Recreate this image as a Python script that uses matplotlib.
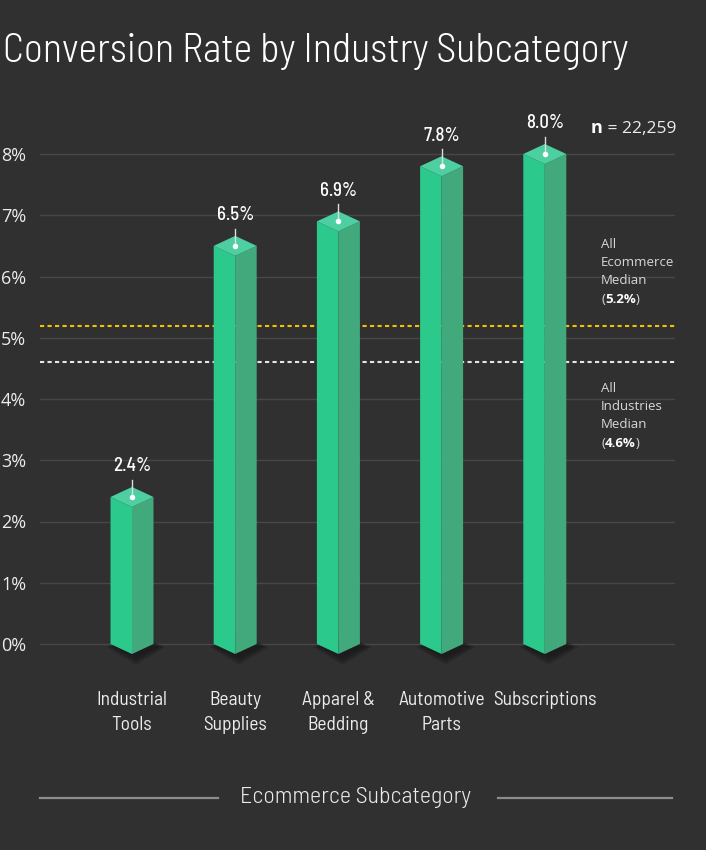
import matplotlib
matplotlib.use("Agg")
import matplotlib.pyplot as plt
from matplotlib.patches import Polygon
from matplotlib.transforms import blended_transform_factory

# Data
subcategories = ["Industrial\nTools", "Beauty\nSupplies", "Apparel &\nBedding",
                 "Automotive\nParts", "Subscriptions"]
conversion_rate = [2.4, 6.5, 6.9, 7.8, 8.0]
value_labels = ["2.4%", "6.5%", "6.9%", "7.8%", "8.0%"]
ecommerce_median = 5.2
industries_median = 4.6
y_ticks = [0, 1, 2, 3, 4, 5, 6, 7, 8]
y_tick_labels = ["0%", "1%", "2%", "3%", "4%", "5%", "6%", "7%", "8%"]
sample_size = "22,259"

# Colors / fonts
bg = "#303030"
grid_c = "#474747"
text_c = "#ececec"
face_left = "#2bc98b"
face_right = "#42a97c"
face_top = "#4dcfa1"
cond = ["Barlow Semi Condensed", "DejaVu Sans"]
sans = ["Open Sans", "DejaVu Sans"]

W, H = 706, 850
fig = plt.figure(figsize=(W / 100, H / 100), dpi=100, facecolor=bg)

# pixel geometry of the plot area
px_x0, px_x1 = 40, 675
cat_px0, cat_step = 132, 103.2
zero_px, pct_px = 644, 61.25
xlim = ((px_x0 - cat_px0) / cat_step, (px_x1 - cat_px0) / cat_step)
ylim = (-0.6, 8.9)
top_px = zero_px - ylim[1] * pct_px
bot_px = zero_px - ylim[0] * pct_px
ax = fig.add_axes([px_x0 / W, 1 - bot_px / H, (px_x1 - px_x0) / W, (bot_px - top_px) / H])
ax.set_facecolor(bg)
ax.set_xlim(*xlim)
ax.set_ylim(*ylim)
for s in ax.spines.values():
    s.set_visible(False)
ax.set_xticks([])
ax.set_yticks(y_ticks)
ax.set_yticklabels(y_tick_labels, fontsize=13, color=text_c, family=sans)
ax.tick_params(axis="y", length=0, pad=10)
for t in y_ticks:
    ax.axhline(t, color=grid_c, lw=1, zorder=0)

# median lines
ax.axhline(ecommerce_median, color="#f2c200", lw=1.5, ls=(0, (2, 1.6)), zorder=1)
ax.axhline(industries_median, color="#e6e6e6", lw=1.5, ls=(0, (2, 1.6)), zorder=1)

# 3D-ish bars
hw = 21.5 / cat_step
hh = 10 / pct_px
sx, sy = 4 / cat_step, 3 / pct_px
for i, v in enumerate(conversion_rate):
    # soft shadow under the base
    for k in range(5):
        g = k * 2.0
        gx, gy = g / cat_step, g / pct_px
        ax.add_patch(Polygon([(i - hw - gx + sx, -sy), (i + sx, -hh - gy - sy),
                              (i + hw + gx + sx, -sy), (i + sx, hh)],
                             closed=True, fc="#151515", ec="none", alpha=0.22, zorder=2))
    ax.add_patch(Polygon([(i - hw, v), (i, v - hh), (i, -hh), (i - hw, 0)],
                         closed=True, fc=face_left, ec="none", zorder=3))
    ax.add_patch(Polygon([(i, v - hh), (i + hw, v), (i + hw, 0), (i, -hh)],
                         closed=True, fc=face_right, ec="none", zorder=3))
    ax.add_patch(Polygon([(i, v + hh), (i + hw, v), (i, v - hh), (i - hw, v)],
                         closed=True, fc=face_top, ec="none", zorder=4))
    ax.plot([i, i], [v, v + 17 / pct_px], color="#dddddd", lw=1, zorder=5)
    ax.plot(i, v, "o", ms=4, color="white", mec="none", zorder=6)
    ax.annotate(value_labels[i], xy=(i, v), xytext=(0, 22), textcoords="offset points",
                ha="center", va="center", fontsize=13.5, fontweight=500,
                color="white", family=cond)

# category labels
tr = blended_transform_factory(ax.transData, fig.transFigure)
for i, name in enumerate(subcategories):
    ax.text(i, 1 - 691 / H, name, transform=tr, ha="center", va="top",
            fontsize=14, color=text_c, family=cond, linespacing=1.5)


def ftext(x, y, s, **kw):
    return fig.text(x / W, 1 - y / H, s, **kw)


# title
ftext(3, 62, "Conversion Rate by Industry Subcategory", fontsize=28.8,
      fontweight=300, color="white", family=cond, va="baseline", ha="left")

# sample size
n_t = ftext(591, 128, "n", fontsize=13, fontweight="bold", color="white",
            family=sans, va="center", ha="left")
ax.annotate(" = " + sample_size, xy=(1, 0), xycoords=n_t, va="bottom", ha="left",
            fontsize=12.5, color=text_c, family=sans)


# median annotations
def median_note(y_top, lines, value):
    ftext(601, y_top, "\n".join(lines), fontsize=9.5, color="#d8d8d8",
          family=sans, va="top", ha="left", linespacing=1.5)
    y_last = y_top + 18.2 * len(lines)
    p = ftext(601, y_last, "(", fontsize=9.5, color="#d8d8d8", family=sans,
              va="top", ha="left")
    b = ax.annotate(value, xy=(1, 0), xycoords=p, va="bottom", ha="left",
                    fontsize=9.5, fontweight="bold", color="white", family=sans)
    ax.annotate(")", xy=(1, 0), xycoords=b, va="bottom", ha="left",
                fontsize=9.5, color="#d8d8d8", family=sans)


median_note(238, ["All", "Ecommerce", "Median"], "5.2%")
median_note(382, ["All", "Industries", "Median"], "4.6%")

# bottom axis caption with side rules
ftext(356, 798, "Ecommerce Subcategory", fontsize=17.3, fontweight=300,
      color=text_c, family=cond, va="center", ha="center")
for xa, xb in [(40, 218), (498, 672)]:
    fig.add_artist(plt.Line2D([xa / W, xb / W], [1 - 798 / H, 1 - 798 / H],
                              color="#8c8c8c", lw=1.6))

fig.savefig("out.png", dpi=100, facecolor=bg)
